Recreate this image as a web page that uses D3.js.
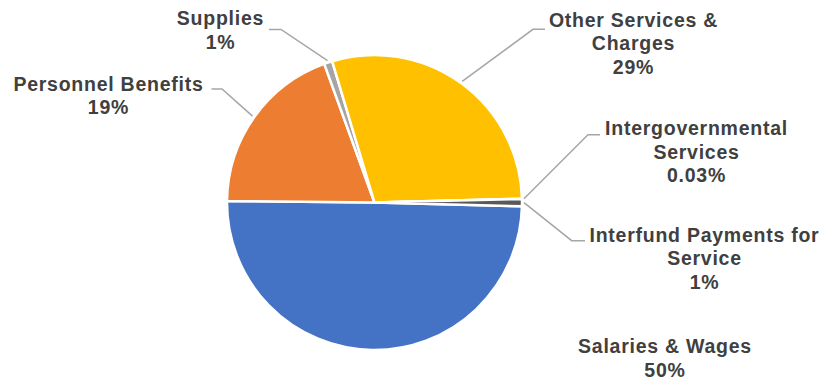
<!DOCTYPE html>
<html>
<head>
<meta charset="utf-8">
<script src="https://cdn.jsdelivr.net/npm/d3@7"></script>
<style>
  html, body { margin: 0; padding: 0; background: #fff; }
  svg { display: block; }
  text { font-family: "Liberation Sans", Arial, sans-serif; font-weight: bold; fill: #404040; }
</style>
</head>
<body>
<div id="chart"></div>
<script>
// ---- data ----
const categories = [
  "Salaries & Wages",
  "Personnel Benefits",
  "Supplies",
  "Other Services & Charges",
  "Intergovernmental Services",
  "Interfund Payments for Service"
];
const values = [49.7, 19.3, 0.9, 29.2, 0.03, 0.8];
const labelLines = [
  ["Salaries & Wages"],
  ["Personnel Benefits"],
  ["Supplies"],
  ["Other Services &", "Charges"],
  ["Intergovernmental", "Services"],
  ["Interfund Payments for", "Service"]
];
const colors = ["#4472C4", "#ED7D31", "#A5A5A5", "#FFC000", "#5B9BD5", "#595959"];

// ---- layout (positions only) ----
const W = 824, H = 379;
const cx = 374.5, cy = 202.5, R = 147.5;
const startDeg = 91.5;
const lineH = 23.5;
const labelLayout = {
  "Salaries & Wages":              { x: 665,   y: 353,   line: null },
  "Personnel Benefits":            { x: 108.5, y: 90.5,  line: [[211.5, 89], [222, 89]] },
  "Supplies":                      { x: 220.5, y: 25,    line: [[269, 29.5], [281, 29.5]] },
  "Other Services & Charges":      { x: 633.5, y: 26.7,  line: [[545, 29.3], [533, 29.3]] },
  "Intergovernmental Services":    { x: 696.5, y: 135,   line: [[600, 134.7], [588, 134.7]] },
  "Interfund Payments for Service":{ x: 704.5, y: 241.7, line: [[585, 240.7], [571.7, 240.7]] }
};

const total = d3.sum(values);
function pctText(v) {
  const p = v / total * 100;
  return p < 0.5 ? p.toFixed(2) + "%" : Math.round(p) + "%";
}

const data = categories.map((c, i) => ({ cat: c, value: values[i], lines: labelLines[i], color: colors[i] }));

const svg = d3.select("#chart").append("svg").attr("width", W).attr("height", H);
const g = svg.append("g").attr("transform", `translate(${cx},${cy})`);

const start = startDeg * Math.PI / 180;
const pie = d3.pie().value(d => d.value).sort(null)
  .startAngle(start).endAngle(start + 2 * Math.PI);
const arc = d3.arc().innerRadius(0).outerRadius(R);
const arcs = pie(data);

g.selectAll("path.slice").data(arcs).join("path")
  .attr("class", "slice")
  .attr("d", arc)
  .attr("fill", d => d.data.color)
  .attr("stroke", "#fff")
  .attr("stroke-width", 2.5)
  .attr("stroke-linejoin", "round");

// leader lines
const leaderR = R + 2;
arcs.forEach(a => {
  const lay = labelLayout[a.data.cat];
  if (!lay.line) return;
  const mid = (a.startAngle + a.endAngle) / 2;
  const px = cx + leaderR * Math.sin(mid);
  const py = cy - leaderR * Math.cos(mid);
  const pts = [lay.line[0], lay.line[1], [px, py]];
  svg.append("path")
    .attr("d", d3.line()(pts))
    .attr("fill", "none")
    .attr("stroke", "#A6A6A6")
    .attr("stroke-width", 1.5);
});

// labels
arcs.forEach(a => {
  const lay = labelLayout[a.data.cat];
  const lines = a.data.lines.concat([pctText(a.data.value)]);
  const t = svg.append("text")
    .attr("text-anchor", "middle")
    .style("font-size", "19.5px")
    .style("letter-spacing", "0.75px");
  lines.forEach((s, i) => {
    t.append("tspan").attr("x", lay.x).attr("y", lay.y + i * lineH).text(s);
  });
});
</script>
</body>
</html>
